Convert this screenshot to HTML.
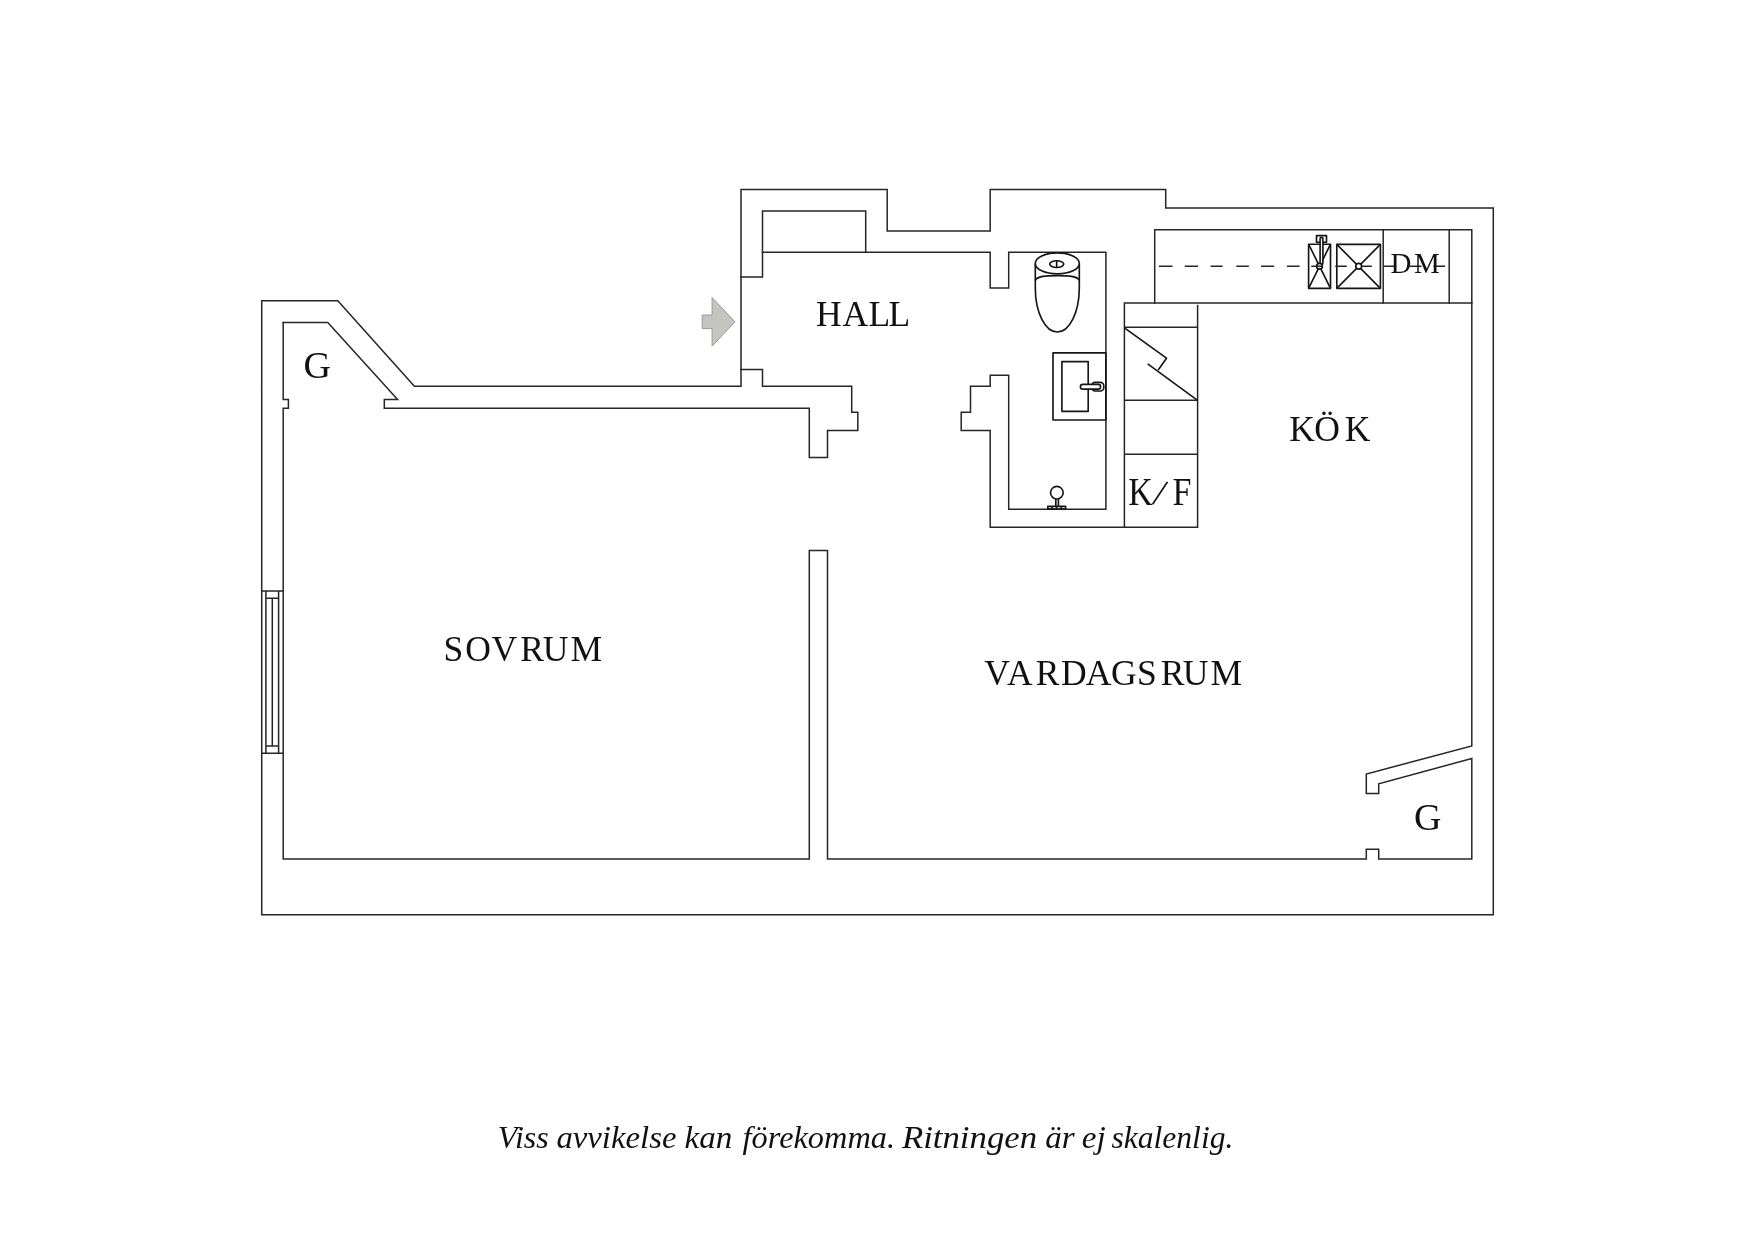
<!DOCTYPE html>
<html lang="sv">
<head>
<meta charset="utf-8">
<title>Planritning</title>
<style>
html,body{margin:0;padding:0;background:#fff;}
body{width:1754px;height:1240px;overflow:hidden;position:relative;}
svg{position:absolute;left:0;top:0;display:block;will-change:transform;}
.w{fill:none;stroke:#262626;stroke-width:1.5;stroke-linecap:square;stroke-linejoin:miter;}
.t{fill:none;stroke:#262626;stroke-width:1.5;stroke-linecap:butt;stroke-linejoin:round;}
.wf{fill:#fff;stroke:#161616;stroke-width:1.65;}
.f{fill:none;stroke:#161616;stroke-width:1.65;stroke-linecap:butt;stroke-linejoin:round;}
.lbl{font-family:"Liberation Serif",serif;fill:#111;font-size:35.5px;}
.cap{font-family:"Liberation Serif",serif;font-style:italic;fill:#111;font-size:32.5px;}
</style>
</head>
<body>
<svg width="1754" height="1240" viewBox="0 0 1754 1240">
<rect width="1754" height="1240" fill="#fff"/>
<!-- OUTER WALL -->
<path class="w" d="M261.7,300.8 H337.8 L414.4,386.3 H741 V189.6 H887.2 V231 H990.2 V189.6 H1165.7 V208.1 H1493.3 V914.8 H261.7 Z"/>
<!-- BEDROOM INNER -->
<path class="w" d="M283.2,322.6 H327.8 L397.6,399.4 H384.3 V408.3 H809.3 V457.5 H827.5 V430.4 H857.8 V412.3 H851.7 V386.3 H762.5 V369.4 H741"/>
<path class="w" d="M283.2,322.6 V399.4 H288.4 V408.3 H283.2 V859 H809.3 V550.6 H827.5 V859 H1366.3 V849.3 H1378.7 V859 H1471.8 V758.5 L1378.7,783.7 V793.4 H1366.3 V774 L1471.8,745.9 V229.7 H1154.7 V303"/>
<!-- HALL INNER -->
<path class="w" d="M741,277.1 H762.5 V210.9 H865.7 V252.3"/>
<path class="w" d="M762.5,252.3 H990.2 V287.9 H1008.7 V252.3 H1105.9 V509.2 H1008.7 V375.2 H990.2 V386.3 H970.5 V412.3 H961.2 V430.4 H990.2 V527.3 H1197.6 V305.5"/>
<!-- KITCHEN -->
<path class="w" d="M1471.8,303 H1124.4 V527.3"/>
<path class="t" d="M1124.4,327.3 H1197.6 M1124.4,400.3 H1197.6 M1124.4,454.3 H1197.6"/>
<path class="w" d="M1383.2,229.7 V303 M1449.2,229.7 V303"/>
<path class="f" d="M1124.4,327.8 L1166.5,358.2 L1158.2,370 M1147.7,363.9 L1197.6,400.3"/>
<!-- kitchen sinks -->
<rect class="f" x="1316.5" y="235.6" width="10" height="6.6"/>
<rect class="f" x="1308.6" y="244.2" width="21.9" height="44.1"/>
<path class="f" d="M1308.6,244.2 L1330.5,288.3 M1330.5,244.2 L1308.6,288.3"/>
<rect class="wf" x="1320.1" y="237.3" width="2.8" height="27" rx="1.4"/>
<circle class="wf" cx="1319.5" cy="266.2" r="2.9"/>
<rect class="f" x="1336.8" y="244.4" width="43.6" height="43.9"/>
<path class="f" d="M1336.8,244.4 L1380.4,288.3 M1380.4,244.4 L1336.8,288.3"/>
<circle class="wf" cx="1358.7" cy="266.2" r="2.9"/>
<!-- dashed -->
<path class="t" d="M1159,266.2 H1172.6 M1184.8,266.2 H1198 M1210.6,266.2 H1222.6 M1236.3,266.2 H1248.8 M1261,266.2 H1274.2 M1287,266.2 H1299.6 M1311.3,266.2 H1322.4 M1335.3,266.2 H1346.8 M1361.8,266.2 H1371.8 M1384,266.2 H1396.3 M1409.8,266.2 H1421.5 M1433.5,266.2 H1445.2"/>
<!-- toilet -->
<path class="f" d="M1035.3,263.4 V288 A22,44 0 0 0 1079.3,288 V263.4"/>
<path class="f" d="M1035.3,280.5 C1036.5,276 1047,275.6 1057.3,275.6 C1067.6,275.6 1078.1,276 1079.3,280.5"/>
<ellipse class="wf" cx="1057.3" cy="263.4" rx="22" ry="10.5"/>
<ellipse class="f" cx="1056.7" cy="264.1" rx="7" ry="3.4"/>
<path class="f" d="M1056.7,260.7 V267.5"/>
<!-- bathroom sink -->
<rect class="f" x="1053" y="352.9" width="52.9" height="67.1"/>
<rect class="f" x="1061.9" y="361.6" width="26.3" height="49.8"/>
<rect class="wf" x="1091.7" y="382.3" width="12.1" height="8.7" rx="3.5"/>
<rect class="wf" x="1080.4" y="384.4" width="20.2" height="4.8" rx="2.4"/>
<!-- drain -->
<circle class="f" cx="1056.85" cy="492.7" r="6.3"/>
<path class="f" d="M1055.8,499 V506.4 M1058.4,499 V506.4"/>
<rect class="f" x="1047.8" y="506.4" width="17.8" height="2.8"/>
<path class="f" d="M1052,506.4 V509 M1056.6,506.4 V509 M1061.3,506.4 V509" stroke-width="1"/>
<!-- window -->
<path class="t" d="M261.7,591 H283.2 M261.7,753.2 H283.2 M265.9,591 V753.2 M278.6,591 V753.2 M265.9,598.3 H278.6 M265.9,746 H278.6 M272.3,598.3 V746"/>
<!-- arrow -->
<path d="M702.2,315 H712.1 V297.6 L735,321.8 L712.1,346.2 V328.6 H702.2 Z" fill="#c4c4c0" stroke="#9a9a96" stroke-width="1"/>
<!-- LABELS -->
<text class="lbl" y="325.8" x="816.1 842.5 868.4 888.5">HALL</text>
<text class="lbl" y="440.6" x="1289.3 1314.2 1344.7">KÖK</text>
<text class="lbl" y="661.3" x="443.5 465.3 491.5 520.2 542.8 570.6">SOVRUM</text>
<text class="lbl" y="684.6" x="984.2 1007.0 1035.7 1061.0 1085.8 1111.0 1137.1 1160.7 1182.8 1210.5">VARDAGSRUM</text>
<text class="lbl" transform="scale(0.85,1)" y="505 503.5 505" x="1327.5 1355.4 1379.5" rotate="0 19 0" style="font-size:40px">K/F</text>
<text class="lbl" y="272.5" x="1390.6 1413.9" style="font-size:29px">DM</text>
<text class="lbl" x="303.5" y="378" style="font-size:38px">G</text>
<text class="lbl" x="1414" y="829.7" style="font-size:38px">G</text>
<text class="cap" y="1147.7"><tspan x="497.8" textLength="50.8" lengthAdjust="spacingAndGlyphs">Viss</tspan> <tspan x="556.4" textLength="120.1" lengthAdjust="spacingAndGlyphs">avvikelse</tspan> <tspan x="684.6" textLength="47.8" lengthAdjust="spacingAndGlyphs">kan</tspan> <tspan x="742.6" textLength="152.4" lengthAdjust="spacingAndGlyphs">förekomma.</tspan> <tspan x="901.9" textLength="135.2" lengthAdjust="spacingAndGlyphs">Ritningen</tspan> <tspan x="1045.2" textLength="29.5" lengthAdjust="spacingAndGlyphs">är</tspan> <tspan x="1081.7" textLength="24.0" lengthAdjust="spacingAndGlyphs">ej</tspan> <tspan x="1111.4" textLength="122.0" lengthAdjust="spacingAndGlyphs">skalenlig.</tspan></text>
</svg>
</body>
</html>
